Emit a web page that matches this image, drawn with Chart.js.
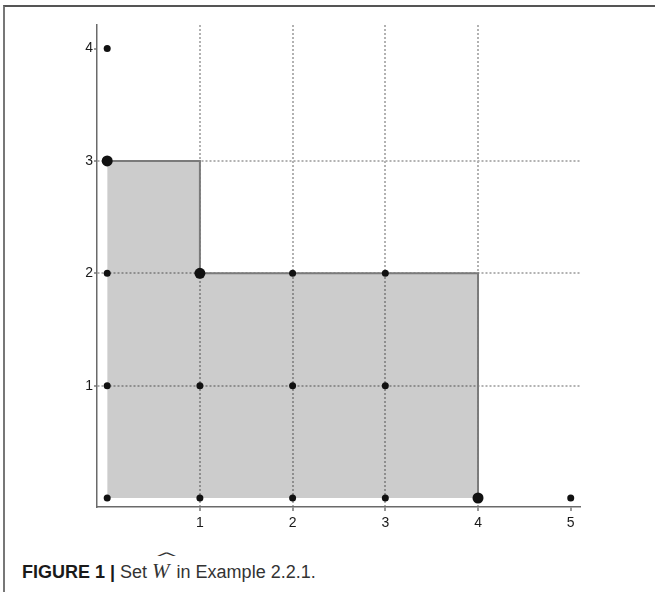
<!DOCTYPE html>
<html>
<head>
<meta charset="utf-8">
<script src="https://cdn.jsdelivr.net/npm/chart.js@4/dist/chart.umd.min.js"></script>
<style>
  body { margin: 0; background: #fff; }
  #frame { position: absolute; left: 3px; top: 5px; width: 652px; height: 587px;
           border-top: 2px solid #555; border-left: 2px solid #777; }
  #wrap { position: absolute; left: 0; top: 0; width: 655px; height: 540px; }
  #caption { position: absolute; left: 22px; top: 562px; font-family: "Liberation Sans", Arial, sans-serif;
             font-size: 18px; line-height: 18px; color: #333; white-space: nowrap; }
  #caption b { font-weight: bold; color: #1a1a1a; }
  .w { position: relative; font-family: "Liberation Serif", serif; font-style: italic; font-size: 21px; margin-right: 2px; }
  .hat { position: absolute; left: 2px; top: -10px; font-family: "DejaVu Sans", sans-serif; font-style: normal;
         font-size: 13px; display: inline-block; transform: scaleX(2.3); transform-origin: left; }
</style>
</head>
<body>
<div id="frame"></div>
<div id="wrap"><canvas id="setChart" width="655" height="540"></canvas></div>
<div id="caption"><b>FIGURE 1 |</b> Set <span class="w">W<span class="hat">^</span></span> in Example 2.2.1.</div>
<script>
// tick labels
var xTicks = [1, 2, 3, 4, 5];
var yTicks = [1, 2, 3, 4];

// lattice points of the set
var pointsX = [0, 1, 2, 3, 5, 0, 1, 2, 3, 0, 2, 3, 0];
var pointsY = [0, 0, 0, 0, 0, 1, 1, 1, 1, 2, 2, 2, 4];

// corner (maximal) points, drawn larger
var cornerX = [0, 1, 4];
var cornerY = [3, 2, 0];

// upper boundary of the shaded region
var edgeX = [0, 1, 1, 4, 4];
var edgeY = [3, 3, 2, 2, 0];

function toXY(xs, ys) {
  return xs.map(function (x, i) { return { x: x, y: ys[i] }; });
}

var ctx = document.getElementById("setChart").getContext('2d');

new Chart(ctx, {
  type: 'scatter',
  data: {
    datasets: [
      {
        data: toXY(pointsX, pointsY),
        backgroundColor: '#111',
        borderWidth: 0,
        pointRadius: 3.5,
        order: 0
      },
      {
        data: toXY(cornerX, cornerY),
        backgroundColor: '#111',
        borderWidth: 0,
        pointRadius: 5.5,
        order: 0
      },
      {
        // translucent so the dotted grid shows through
        data: toXY(edgeX, edgeY),
        showLine: true,
        fill: 'origin',
        backgroundColor: 'rgba(0,0,0,0.2)',
        borderColor: '#7a7a7a',
        borderWidth: 2,
        pointRadius: 0,
        tension: 0,
        order: 1
      }
    ]
  },
  options: {
    responsive: false,
    animation: false,
    layout: { padding: { top: 25, right: 75, left: 0, bottom: 0 } },
    plugins: { legend: { display: false }, tooltip: { enabled: false } },
    scales: {
      x: {
        type: 'linear',
        min: -0.11,
        max: 5.1,
        afterBuildTicks: function (s) { s.ticks = xTicks.map(function (v) { return { value: v }; }); },
        afterFit: function (s) { s.height = 33; },
        ticks: { color: '#1a1a1a', font: { family: 'Liberation Sans', size: 14 }, padding: 4 },
        grid: {
          color: function (c) { return c.tick && c.tick.value === 5 ? 'rgba(0,0,0,0)' : '#b2b2b2'; },
          lineWidth: 2,
          tickColor: '#777',
          tickWidth: 1.5,
          tickLength: 4,
          tickBorderDash: []
        },
        border: { color: '#6a6a6a', width: 1.5, dash: [2, 2] }
      },
      y: {
        type: 'linear',
        min: -0.08,
        max: 4.21,
        afterBuildTicks: function (s) { s.ticks = yTicks.map(function (v) { return { value: v }; }); },
        afterFit: function (s) { s.width = 97; },
        ticks: { color: '#1a1a1a', font: { family: 'Liberation Sans', size: 14 }, padding: 1 },
        grid: {
          color: function (c) { return c.tick && c.tick.value === 4 ? 'rgba(0,0,0,0)' : '#b2b2b2'; },
          lineWidth: 2,
          tickColor: '#777',
          tickWidth: 1.5,
          tickLength: 3,
          tickBorderDash: []
        },
        border: { color: '#6a6a6a', width: 1.5, dash: [2, 2] }
      }
    }
  }
});
</script>
</body>
</html>
